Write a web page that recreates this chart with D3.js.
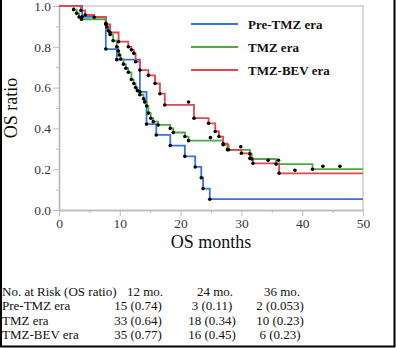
<!DOCTYPE html>
<html>
<head>
<meta charset="utf-8">
<script src="https://cdn.jsdelivr.net/npm/d3@7"></script>
<style>
body { margin: 0; background: #fff; }
svg { display: block; font-family: "Liberation Serif", "Times New Roman", serif; }
</style>
</head>
<body>
<svg id="chart" width="396" height="348"></svg>
<script>
// ticks
var xTicks = [0, 10, 20, 30, 40, 50],
    xMinor = [5, 15, 25, 35, 45],
    yTicks = [0, 0.2, 0.4, 0.6, 0.8, 1.0],
    yMinor = [0.1, 0.3, 0.5, 0.7, 0.9];

// Kaplan-Meier steps (event month, OS ratio after the event)
var preTimes = [3.8, 7.7, 9.5, 13.3, 14.4, 16.0, 18.3, 20.7, 22.4, 23.4, 23.7, 24.8];
var preSurv  = [0.947, 0.789, 0.737, 0.579, 0.421, 0.368, 0.316, 0.263, 0.211, 0.158, 0.105, 0.053];
var preCens  = [];

var tmzTimes = [2.4, 2.9, 3.3, 3.7, 7.7, 7.9, 8.1, 8.4, 8.9, 9.5, 9.75, 9.9, 10.15, 10.6, 11.0, 11.4, 11.9, 12.3, 12.6, 12.9, 13.3, 13.9, 14.1, 14.4, 14.7, 15.1, 15.5, 16.3, 18.3, 18.8, 20.7, 21.3, 27.0, 27.9, 31.4, 31.7, 35.7, 41.7];
var tmzSurv  = [0.982, 0.964, 0.946, 0.935, 0.915, 0.897, 0.879, 0.86, 0.83, 0.80, 0.78, 0.76, 0.74, 0.715, 0.695, 0.675, 0.64, 0.62, 0.60, 0.585, 0.565, 0.545, 0.53, 0.51, 0.475, 0.45, 0.433, 0.417, 0.40, 0.38, 0.36, 0.34, 0.32, 0.295, 0.275, 0.25, 0.225, 0.20];
var tmzCens  = [24.9, 43.4, 46.2];

var bevTimes = [3.6, 4.3, 5.8, 7.7, 8.4, 9.8, 11.4, 11.9, 12.3, 12.6, 13.3, 14.7, 15.8, 16.6, 17.4, 22.2, 24.6, 25.7, 26.3, 27.0, 27.7, 30.0, 31.4, 31.9, 36.2];
var bevSurv  = [0.978, 0.956, 0.945, 0.91, 0.87, 0.825, 0.80, 0.785, 0.768, 0.727, 0.686, 0.66, 0.62, 0.57, 0.515, 0.45, 0.425, 0.385, 0.36, 0.325, 0.295, 0.278, 0.253, 0.229, 0.18];
var bevCens  = [21.3, 29.9, 34.4, 36.1, 38.8];

var seriesNames = ["Pre-TMZ era", "TMZ era", "TMZ-BEV era"];
var seriesColors = ["#3b72d9", "#4aab3e", "#e0474e"];

// number at risk table
var riskTitle = "No. at Risk (OS ratio)";
var riskHeader = ["12 mo.", "24 mo.", "36 mo."];
var riskValues = [
  ["15 (0.74)", "3 (0.11)", "2 (0.053)"],
  ["33 (0.64)", "18 (0.34)", "10 (0.23)"],
  ["35 (0.77)", "16 (0.45)", "6 (0.23)"]
];

var series = [
  {name: seriesNames[0], color: seriesColors[0], times: preTimes, surv: preSurv, cens: preCens},
  {name: seriesNames[1], color: seriesColors[1], times: tmzTimes, surv: tmzSurv, cens: tmzCens},
  {name: seriesNames[2], color: seriesColors[2], times: bevTimes, surv: bevSurv, cens: bevCens}
];

var svg = d3.select("#chart"),
    pLeft = 59, pRight = 363, pTop = 6, pBottom = 210;

var x = d3.scaleLinear().domain([0, 50]).range([pLeft, pRight]);
var y = d3.scaleLinear().domain([0, 1]).range([pBottom, pTop]);

var axisColor = "#bdbdbd", labelColor = "#383838";

// frame (top / right)
svg.append("path")
    .attr("d", "M" + pLeft + "," + pTop + "H" + pRight + "V" + pBottom)
    .attr("fill", "none").attr("stroke", "#cfcfcf").attr("stroke-width", 1.5);

function styleAxis(g) {
  g.select(".domain").attr("stroke", axisColor).attr("stroke-width", 1.5);
  g.selectAll(".tick line").attr("stroke", axisColor).attr("stroke-width", 1);
  g.selectAll(".tick text").attr("fill", labelColor)
      .style("font-family", '"Liberation Serif", serif').style("font-size", "13.5px");
}

svg.append("g").attr("transform", "translate(0," + pBottom + ")")
    .call(d3.axisBottom(x).tickValues(xMinor).tickSize(3).tickSizeOuter(0).tickFormat(""))
    .call(styleAxis);
svg.append("g").attr("transform", "translate(0," + pBottom + ")")
    .call(d3.axisBottom(x).tickValues(xTicks).tickSize(6).tickSizeOuter(0).tickPadding(2))
    .call(styleAxis);

svg.append("g").attr("transform", "translate(" + pLeft + ",0)")
    .call(d3.axisLeft(y).tickValues(yMinor).tickSize(3).tickSizeOuter(0).tickFormat(""))
    .call(styleAxis);
svg.append("g").attr("transform", "translate(" + pLeft + ",0)")
    .call(d3.axisLeft(y).tickValues(yTicks).tickSize(6).tickSizeOuter(0).tickPadding(2).tickFormat(d3.format(".1f")))
    .call(styleAxis);

// axis titles
svg.append("text")
    .attr("x", (pLeft + pRight) / 2).attr("y", 248)
    .attr("text-anchor", "middle").attr("font-size", 18).attr("fill", "#111")
    .text("OS months");
svg.append("text")
    .attr("transform", "translate(17," + (pTop + pBottom) / 2 + ") rotate(-90)")
    .attr("text-anchor", "middle").attr("font-size", 18).attr("fill", "#111")
    .text("OS ratio");

// survival curves
var line = d3.line()
    .x(function(d) { return x(d[0]); })
    .y(function(d) { return y(d[1]); })
    .curve(d3.curveStepAfter);

function stepAt(s, t) {
  var v = 1;
  s.times.forEach(function(tt, i) { if (tt <= t) v = s.surv[i]; });
  return v;
}

series.forEach(function(s) {
  var pts = [[0, 1]];
  s.times.forEach(function(t, i) { pts.push([t, s.surv[i]]); });
  pts.push([50, s.surv[s.surv.length - 1]]);
  svg.append("path")
      .datum(pts)
      .attr("fill", "none")
      .attr("stroke", s.color)
      .attr("stroke-width", 1.8)
      .attr("d", line);
});

// event points (bottom of steps) and censored points (above steps)
series.forEach(function(s) {
  svg.append("g").selectAll("circle")
    .data(s.times.map(function(t, i) { return [t, s.surv[i]]; }))
    .enter().append("circle")
      .attr("cx", function(d) { return x(d[0]); })
      .attr("cy", function(d) { return y(d[1]); })
      .attr("r", 1.8)
      .attr("fill", "#000");
  svg.append("g").selectAll("circle")
    .data(s.cens)
    .enter().append("circle")
      .attr("cx", function(d) { return x(d); })
      .attr("cy", function(d) { return y(stepAt(s, d)) - 3; })
      .attr("r", 1.8)
      .attr("fill", "#000");
});

// legend
var legend = svg.append("g").selectAll("g")
    .data(series)
    .enter().append("g")
      .attr("transform", function(d, i) { return "translate(191," + (24 + i * 23) + ")"; });
legend.append("line")
    .attr("x1", 0).attr("x2", 47)
    .attr("stroke", function(d) { return d.color; })
    .attr("stroke-width", 2);
legend.append("text")
    .attr("x", 57).attr("y", 4.5)
    .attr("font-size", 13).attr("font-weight", "bold").attr("fill", "#111")
    .text(function(d) { return d.name; });

// number at risk table
var colX = [138, 212, 280], headX = [145, 215, 282], rowY = [296, 310.3, 324.6, 338.9];
var table = svg.append("g").attr("font-size", 13).attr("fill", "#111");
table.append("text").attr("x", 2).attr("y", rowY[0]).text(riskTitle);
table.selectAll(".hd").data(riskHeader).enter().append("text")
    .attr("x", function(d, i) { return headX[i]; }).attr("y", rowY[0])
    .attr("text-anchor", "middle").text(function(d) { return d; });
riskValues.forEach(function(row, r) {
  table.append("text").attr("x", 2).attr("y", rowY[r + 1]).text(seriesNames[r]);
  table.selectAll(".v" + r).data(row).enter().append("text")
      .attr("x", function(d, i) { return colX[i]; }).attr("y", rowY[r + 1])
      .attr("text-anchor", "middle").text(function(d) { return d; });
});

// outer border
svg.append("path")
    .attr("d", "M1,0V346.5H394.5V0")
    .attr("fill", "none").attr("stroke", "#000").attr("stroke-width", 2);
</script>
</body>
</html>
